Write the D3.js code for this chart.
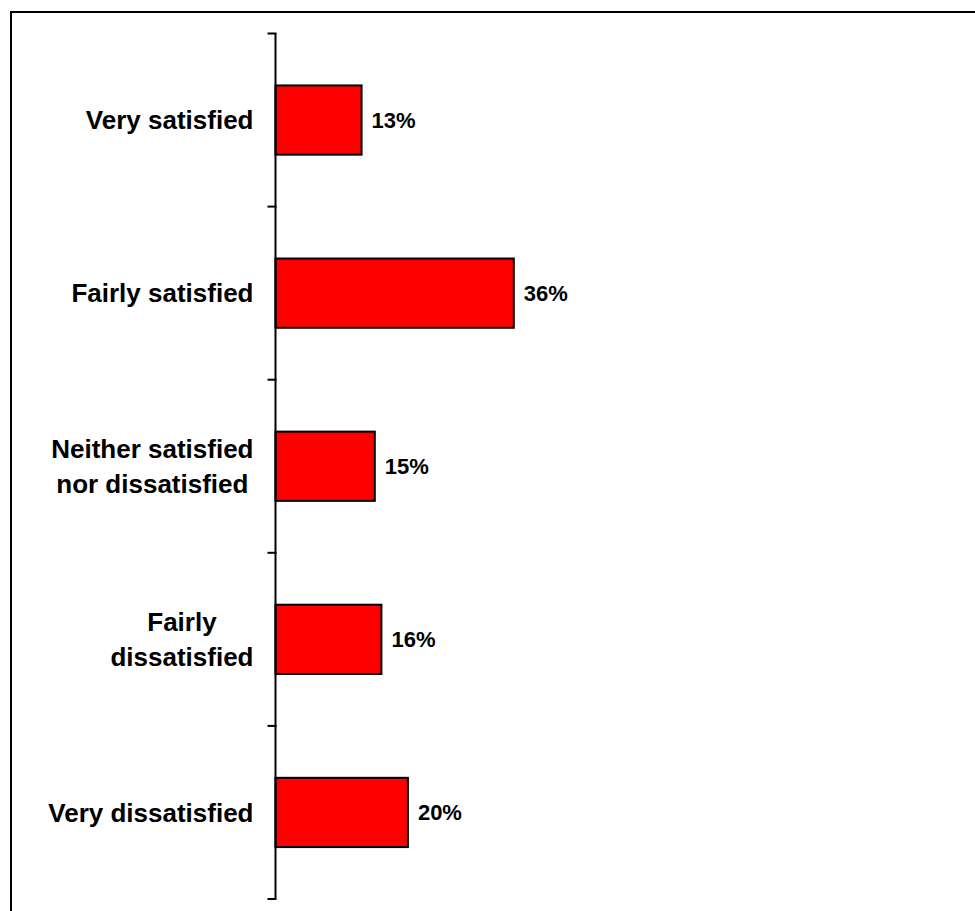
<!DOCTYPE html>
<html>
<head>
<meta charset="utf-8">
<script src="https://cdn.jsdelivr.net/npm/d3@7"></script>
<style>
  html, body { margin: 0; padding: 0; background: #fff; overflow: hidden; }
  svg { display: block; }
  text { font-family: "Liberation Sans", Arial, Helvetica, sans-serif; font-weight: bold; fill: #000; }
</style>
</head>
<body>
<svg id="chart" width="975" height="911"></svg>
<script>
// Data
const categories = ["Very satisfied", "Fairly satisfied", "Neither satisfied\nnor dissatisfied", "Fairly\ndissatisfied", "Very dissatisfied"];
const values = [13, 36, 15, 16, 20];
const valueLabels = ["13%", "36%", "15%", "16%", "20%"];

const W = 975, H = 911;
const svg = d3.select("#chart");

// Outer frame (extends past the window on the right and bottom)
svg.append("rect")
  .attr("x", 11).attr("y", 12)
  .attr("width", 1200).attr("height", 1200)
  .attr("fill", "none").attr("stroke", "#000").attr("stroke-width", 2);

const axisX = 275.5;
const x = d3.scaleLinear().domain([0, 100]).range([axisX, axisX + 662]);
const y = d3.scaleBand().domain(categories).range([33.5, 899]).paddingInner(0.6).paddingOuter(0.3);

const g = svg.append("g");

// Bars
g.selectAll("rect.bar").data(categories).join("rect")
  .attr("class", "bar")
  .attr("x", x(0))
  .attr("y", d => y(d))
  .attr("width", (d, i) => x(values[i]) - x(0))
  .attr("height", y.bandwidth())
  .attr("fill", "#FF0000")
  .attr("stroke", "#000")
  .attr("stroke-width", 2);

// Axis line and ticks at band boundaries
const [r0, r1] = y.range();
g.append("line")
  .attr("x1", axisX).attr("x2", axisX)
  .attr("y1", r0).attr("y2", r1)
  .attr("stroke", "#000").attr("stroke-width", 2);
const tickYs = d3.range(categories.length + 1).map(i => r0 + i * y.step());
g.selectAll("line.tick").data(tickYs).join("line")
  .attr("class", "tick")
  .attr("x1", axisX - 8).attr("x2", axisX + 1)
  .attr("y1", d => d).attr("y2", d => d)
  .attr("stroke", "#000").attr("stroke-width", 2);

// Category labels
const labelRight = 253.5;
const lineH = 35;
categories.forEach(c => {
  const lines = c.split("\n");
  const cy = y(c) + y.bandwidth() / 2;
  const t = g.append("text").attr("font-size", 26);
  const spans = lines.map((ln, k) => t.append("tspan")
    .attr("y", cy + (k - (lines.length - 1) / 2) * lineH)
    .attr("dy", "0.35em")
    .text(ln));
  if (lines.length === 1) {
    t.attr("text-anchor", "end");
    spans[0].attr("x", labelRight);
  } else {
    const widths = spans.map(s => s.node().getComputedTextLength());
    const maxW = d3.max(widths);
    t.attr("text-anchor", "middle");
    spans.forEach(s => s.attr("x", labelRight - maxW / 2));
  }
});

// Value labels
g.selectAll("text.val").data(categories).join("text")
  .attr("class", "val")
  .attr("font-size", 22)
  .attr("x", (d, i) => x(values[i]) + 10)
  .attr("y", d => y(d) + y.bandwidth() / 2)
  .attr("dy", "0.35em")
  .text((d, i) => valueLabels[i]);
</script>
</body>
</html>
